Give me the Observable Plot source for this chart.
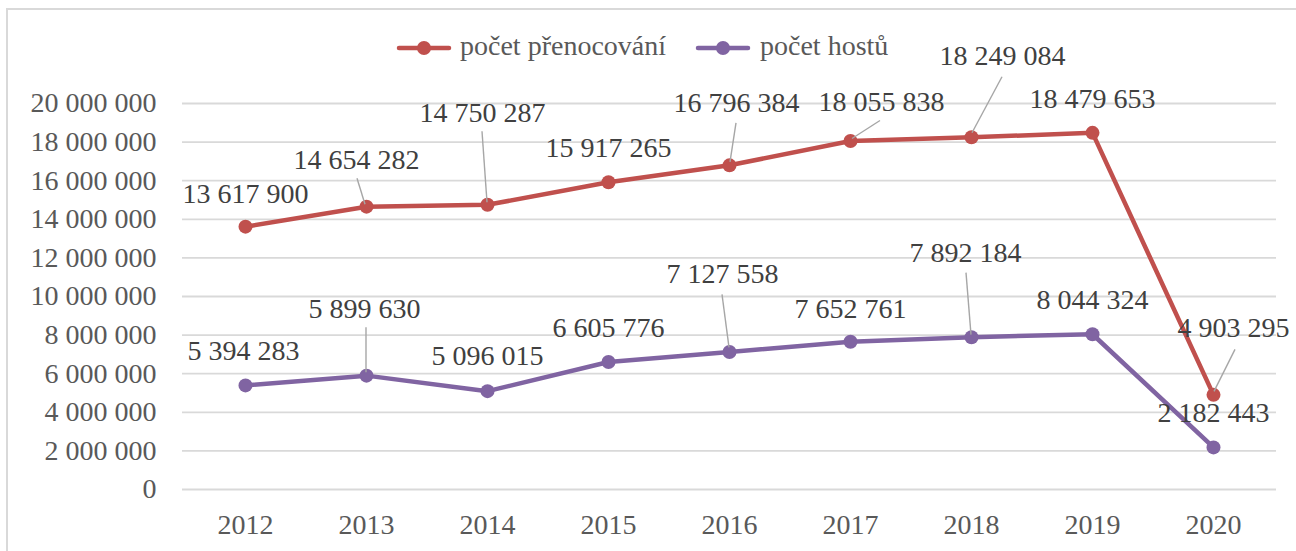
<!DOCTYPE html>
<html>
<head>
<meta charset="utf-8">
<script src="https://cdn.jsdelivr.net/npm/d3@7"></script>
<script src="https://cdn.jsdelivr.net/npm/@observablehq/plot@0.6"></script>
<style>
  body { margin: 0; background: #fff; font-family: 'Liberation Serif', serif; }
  .a { font-family: 'Liberation Serif', serif; }
</style>
</head>
<body>
<div id="wrap" class="a" style="position:relative;width:1296px;height:551px;overflow:hidden;font-family:'Liberation Serif', serif;">
  <div id="frame" style="position:absolute;left:6px;top:8px;width:1400px;height:700px;border:2px solid #d9d9d9;box-sizing:border-box;"></div>
  <div id="chart" style="position:absolute;left:0;top:0;"></div>
</div>
<script>
// ---- data ----
const years = ["2012", "2013", "2014", "2015", "2016", "2017", "2018", "2019", "2020"];
const pocetPrenocovani = [13617900, 14654282, 14750287, 15917265, 16796384, 18055838, 18249084, 18479653, 4903295];
const pocetHostu = [5394283, 5899630, 5096015, 6605776, 7127558, 7652761, 7892184, 8044324, 2182443];
const yTicks = [0, 2000000, 4000000, 6000000, 8000000, 10000000, 12000000, 14000000, 16000000, 18000000, 20000000];
const seriesNames = ["počet přenocování", "počet hostů"];

// ---- label placement (pixel offsets from each point: [dx, baseline dy]) ----
const redLabelOff = [[0,-24],[-10,-38],[-5,-83],[0,-25],[7,-53],[31,-30],[31,-72],[0,-25],[20,-58]];
const purLabelOff = [[-2,-25],[-2,-58],[0,-26],[0,-25],[-7,-69],[0,-24],[-6,-75],[0,-25],[0,-25]];
// leader lines: [x1, y1, x2, y2] relative to point, or null
const redLeader = [null, [-9,-28,-1,-2], [-5,-73,0,-2], null, [7,-42,1,-3], [30,-20,2,-2], [31,-60,1,-4], null, [22,-45,1,-3]];
const purLeader = [null, [0,-48,0,-3], null, null, [-7,-57,0,-4], null, [-5,-64,0,-2], null, null];

const RED = "#C0504D", PURPLE = "#8064A2";
const FONT = "'Liberation Serif', serif";
const fmt = d => d3.format(",")(d).replace(/,/g, " ");

const red = years.map((y, i) => ({year: y, value: pocetPrenocovani[i]}));
const pur = years.map((y, i) => ({year: y, value: pocetHostu[i]}));

function leaders(rows, offs) {
  return (index, scales) => {
    const g = d3.create("svg:g");
    offs.forEach((o, i) => {
      if (!o) return;
      const x = scales.x(rows[i].year), y = scales.y(rows[i].value);
      g.append("line")
        .attr("x1", x + o[0]).attr("y1", y + o[1])
        .attr("x2", x + o[2]).attr("y2", y + o[3])
        .attr("stroke", "#a6a6a6").attr("stroke-width", 1.4);
    });
    return g.node();
  };
}

function labels(rows, offs) {
  return rows.map((r, i) => Plot.text([r], {
    x: "year", y: "value", text: d => fmt(d.value),
    dx: offs[i][0], dy: offs[i][1] - 9,
    fill: "#404040", fontSize: 28, fontFamily: FONT
  }));
}

const chart = Plot.plot({
  width: 1296,
  height: 551,
  marginLeft: 182,
  marginRight: 20,
  marginTop: 103,
  marginBottom: 62,
  style: { fontFamily: FONT, fontSize: "28px", color: "#595959", background: "transparent", overflow: "visible" },
  x: { type: "point", domain: years, padding: 0.5, tickSize: 0, tickPadding: 25, label: null },
  y: { domain: [0, 20000000], ticks: yTicks, tickFormat: fmt, tickSize: 0, tickPadding: 26, label: null },
  marks: [
    Plot.ruleY(yTicks, { stroke: "#d9d9d9", strokeWidth: 1.8 }),
    Plot.line(red, { x: "year", y: "value", stroke: RED, strokeWidth: 4.5 }),
    Plot.line(pur, { x: "year", y: "value", stroke: PURPLE, strokeWidth: 4.5 }),
    Plot.dot(red, { x: "year", y: "value", r: 7, fill: RED }),
    Plot.dot(pur, { x: "year", y: "value", r: 7, fill: PURPLE }),
    leaders(red, redLeader),
    leaders(pur, purLeader),
    ...labels(red, redLabelOff),
    ...labels(pur, purLabelOff)
  ]
});
// make sure every text (including axis ticks) uses the serif face
d3.select(chart).selectAll("g").attr("font-family", null);
d3.select(chart).selectAll("text").attr("font-family", FONT).style("font-family", FONT);
document.getElementById("chart").appendChild(chart);

// ---- legend ----
const wrap = document.getElementById("wrap");
const legendItems = [
  { name: seriesNames[0], color: RED, swatchX: 396, textX: 460 },
  { name: seriesNames[1], color: PURPLE, swatchX: 695, textX: 760 }
];
legendItems.forEach(it => {
  const sw = document.createElementNS("http://www.w3.org/2000/svg", "svg");
  sw.setAttribute("width", 56); sw.setAttribute("height", 24);
  sw.style.cssText = `position:absolute;top:36px;left:${it.swatchX}px;`;
  sw.innerHTML = `<line x1="3" y1="12" x2="53" y2="12" stroke="${it.color}" stroke-width="4.5" stroke-linecap="round"/><circle cx="28" cy="12" r="7" fill="${it.color}"/>`;
  wrap.appendChild(sw);
  const t = document.createElement("div");
  t.style.cssText = `position:absolute;top:30px;left:${it.textX}px;font-size:28px;line-height:32px;color:#595959;white-space:nowrap;font-family:'Liberation Serif', serif;`;
  t.textContent = it.name;
  wrap.appendChild(t);
});
</script>
</body>
</html>
